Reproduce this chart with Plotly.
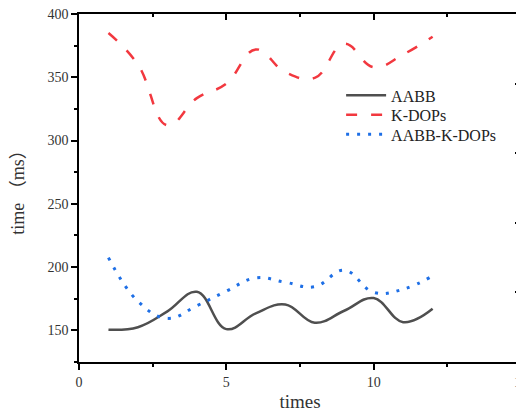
import plotly.graph_objects as go

times = [1, 2, 3, 4, 5, 6, 7, 8, 9, 10, 11, 12]
aabb = [150.5, 152.5, 165, 180.5, 151, 163.5, 170.5, 156, 165.5, 175.5, 156.5, 167]
kdops = [385, 360, 312, 333.5, 345, 372, 354, 349.5, 376.5, 358, 368, 382]
aabb_kdops = [207.5, 173, 159.5, 169.5, 181, 191.5, 188, 184.5, 197.5, 180, 182.5, 193]

x_ticks = [0, 5, 10, 15]
y_ticks = [150, 200, 250, 300, 350, 400]

serif = "Liberation Serif, Noto Sans CJK SC, serif"

fig = go.Figure()
fig.add_trace(go.Scatter(x=times, y=aabb, name="AABB", mode="lines", legend="legend",
                         line=dict(color="#4f4f4f", width=2.5, shape="spline", smoothing=1.15)))
fig.add_trace(go.Scatter(x=times, y=kdops, name="K-DOPs", mode="lines", legend="legend2",
                         line=dict(color="#f2383f", width=2.5, dash="11px,14px", shape="spline", smoothing=1.2)))
fig.add_trace(go.Scatter(x=times, y=aabb_kdops, name="AABB-K-DOPs", mode="lines", legend="legend3",
                         line=dict(color="#1e6fe6", width=3, dash="3px,8px", shape="spline", smoothing=1.2)))
# helper trace so the mirrored tick axes get drawn
fig.add_trace(go.Scatter(x=[None], y=[None], xaxis="x2", yaxis="y2", showlegend=False,
                         hoverinfo="skip", mode="lines"))

leg_common = dict(xanchor="left", yanchor="top", font=dict(family=serif, size=16, color="#222"),
                  bgcolor="rgba(0,0,0,0)", itemwidth=40)

fig.update_layout(
    width=524, height=412,
    # the page shows the figure 8px right/down, so margins are shifted to compensate
    margin=dict(l=71, r=11, t=6, b=58, autoexpand=False),
    paper_bgcolor="white", plot_bgcolor="white",
    showlegend=True,
    legend=dict(x=0.593, y=0.815, **leg_common),
    legend2=dict(x=0.593, y=0.759, **leg_common),
    legend3=dict(x=0.593, y=0.703, **leg_common),
    xaxis=dict(range=[0, 15], tickvals=x_ticks, ticks="outside", ticklen=6, tickwidth=1.5,
               tickcolor="black", showline=True, linecolor="black", linewidth=1.5, mirror=True,
               showgrid=False, zeroline=False, automargin=False, ticklabeloverflow="allow",
               minor=dict(dtick=2.5, ticks="outside", ticklen=3, tickwidth=1.5, tickcolor="black"),
               tickfont=dict(family=serif, size=14, color="#333"),
               title=dict(text="times", font=dict(family=serif, size=19, color="#333"), standoff=6)),
    yaxis=dict(range=[125, 400], tickvals=y_ticks, ticks="outside", ticklen=6, tickwidth=1.5,
               tickcolor="black", showline=True, linecolor="black", linewidth=1.5, mirror=True,
               showgrid=False, zeroline=False, automargin=False, ticklabeloverflow="allow",
               minor=dict(dtick=25, tick0=125, ticks="outside", ticklen=3, tickwidth=1.5, tickcolor="black"),
               tickfont=dict(family=serif, size=14, color="#333"),
               title=dict(text="time （ms）", font=dict(family=serif, size=18, color="#333"), standoff=20)),
    xaxis2=dict(overlaying="x", side="top", range=[0, 15], dtick=5, tick0=0, ticks="inside", ticklen=6,
                tickwidth=1.5, tickcolor="black", showticklabels=False, showgrid=False, zeroline=False,
                showline=False, automargin=False,
                minor=dict(dtick=2.5, ticks="inside", ticklen=3, tickwidth=1.5, tickcolor="black")),
    yaxis2=dict(overlaying="y", side="right", range=[0, 5], dtick=1, tick0=0, ticks="inside", ticklen=6,
                tickwidth=1.5, tickcolor="black", showticklabels=False, showgrid=False, zeroline=False,
                showline=False, automargin=False,
                minor=dict(dtick=0.5, ticks="inside", ticklen=3, tickwidth=1.5, tickcolor="black")),
)

fig.write_html("out.html")
